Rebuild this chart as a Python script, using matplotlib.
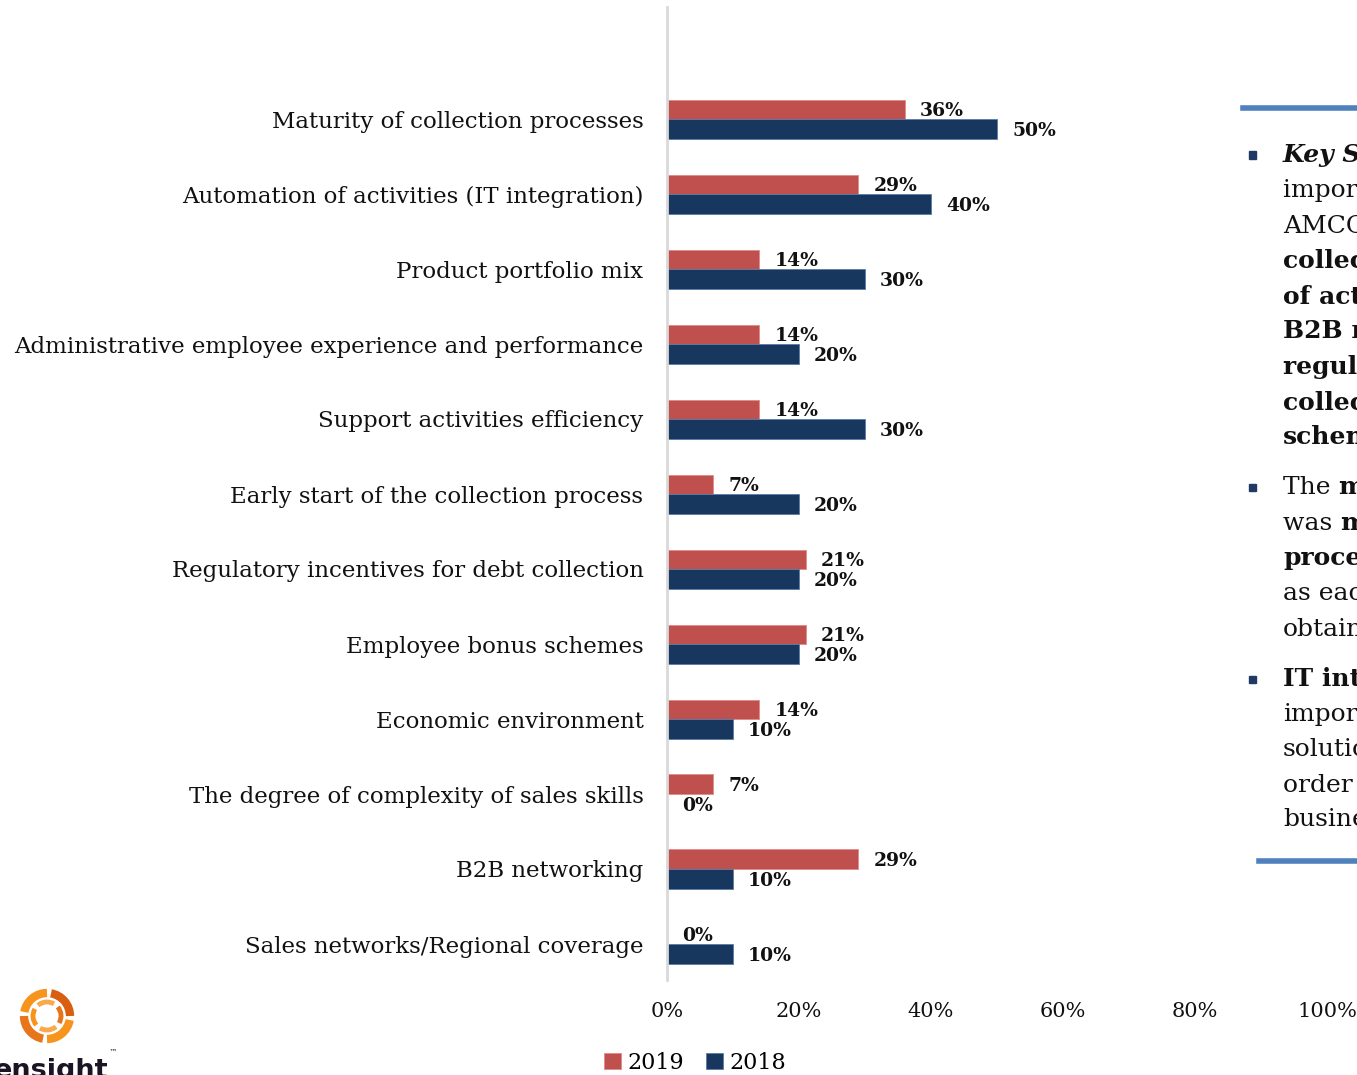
import matplotlib
matplotlib.use("Agg")
import matplotlib.pyplot as plt
from matplotlib.patches import Arc, Rectangle
from matplotlib.ticker import FuncFormatter

# Survey data: importance of factors for collection success
categories = [
    "Maturity of collection processes",
    "Automation of activities (IT integration)",
    "Product portfolio mix",
    "Administrative employee experience and performance",
    "Support activities efficiency",
    "Early start of the collection process",
    "Regulatory incentives for debt collection",
    "Employee bonus schemes",
    "Economic environment",
    "The degree of complexity of sales skills",
    "B2B networking",
    "Sales networks/Regional coverage",
]
values_2019 = [36, 29, 14, 14, 14, 7, 21, 21, 14, 7, 29, 0]
values_2018 = [50, 40, 30, 20, 30, 20, 20, 20, 10, 0, 10, 10]
x_ticks = [0, 20, 40, 60, 80, 100]

RED = "#C0504D"
NAVY = "#17375E"
SERIF = ["DejaVu Serif"]

W, H = 1357, 1075
fig = plt.figure(figsize=(W / 100, H / 100), dpi=100)
fig.patch.set_facecolor("white")


def fx(px):
    return px / W


def fy(py):
    return 1 - py / H


ax = fig.add_axes([fx(667), fy(980), fx(1327) - fx(667), fy(7) - fy(980)])

bar_h = 0.26
ypos = list(range(len(categories)))
y_red = [y - bar_h / 2 for y in ypos]
y_navy = [y + bar_h / 2 for y in ypos]

ax.barh(y_red, values_2019, height=bar_h, color=RED, edgecolor="#E08A88",
        linewidth=0.6, label="2019")
ax.barh(y_navy, values_2018, height=bar_h, color=NAVY, edgecolor="#5A7BA8",
        linewidth=0.6, label="2018")

for yr, yn, v19, v18 in zip(y_red, y_navy, values_2019, values_2018):
    ax.annotate(f"{v19}%", (v19, yr + 0.02), xytext=(15, 0), textcoords="offset pixels",
                ha="left", va="center", fontsize=13.5, fontweight="bold",
                family=SERIF, color="#111111")
    ax.annotate(f"{v18}%", (v18, yn + 0.03), xytext=(15, 0), textcoords="offset pixels",
                ha="left", va="center", fontsize=13.5, fontweight="bold",
                family=SERIF, color="#111111")

ax.set_xlim(0, 100)
ax.set_ylim(11 + (980 - 944) / 75, -(119 - 7) / 75)
ax.set_yticks(ypos)
ax.set_yticklabels(categories, family=SERIF, fontsize=16.5, color="#111111")
ax.set_xticks(x_ticks)
ax.xaxis.set_major_formatter(FuncFormatter(lambda v, p: f"{v:.0f}%"))
for lbl in ax.get_xticklabels():
    lbl.set_family(SERIF)
    lbl.set_fontsize(15)
    lbl.set_color("#111111")
ax.tick_params(axis="both", length=0)
ax.tick_params(axis="y", pad=17)
ax.tick_params(axis="x", pad=16)
for side in ("top", "right", "bottom"):
    ax.spines[side].set_visible(False)
ax.spines["left"].set_color("#D9D9D9")
ax.spines["left"].set_linewidth(2)

leg = fig.legend(loc="center", bbox_to_anchor=(fx(695), fy(1063)), ncol=2,
                 frameon=False, handlelength=0.75, handleheight=0.75,
                 handletextpad=0.3, columnspacing=1.0,
                 prop={"family": SERIF, "size": 16})

# Key findings panel on the right
BLUE_RULE = "#4F81BD"
fig.add_artist(plt.Line2D([fx(1243), fx(1357)], [fy(108), fy(108)],
                          color=BLUE_RULE, lw=4, transform=fig.transFigure))
fig.add_artist(plt.Line2D([fx(1259), fx(1357)], [fy(861), fy(861)],
                          color=BLUE_RULE, lw=4, transform=fig.transFigure))

TX = 1283
FS = 18


def line(x, y, s, weight="normal", style="normal"):
    return fig.text(fx(x), fy(y), s, ha="left", va="center", fontsize=FS,
                    family=SERIF, fontweight=weight, fontstyle=style, color="#111111")


def line_mixed(y, first, second):
    t = line(TX, y, first)
    fig.canvas.draw()
    bb = t.get_window_extent()
    fig.text(bb.x1 / W, fy(y), second, ha="left", va="center", fontsize=FS,
             family=SERIF, fontweight="bold", color="#111111")


def bullet(y):
    fig.add_artist(Rectangle((fx(1249), fy(y) - 3.5 / H), 7 / W, 7 / H,
                             transform=fig.transFigure, color="#1F3864"))


bullet(155)
line(TX, 155, "Key Success Factors", "bold", "italic")
line(TX, 190, "important for")
line(TX, 226, "AMCCs are: maturity of")
line(TX, 261, "collection processes,", "bold")
line(TX, 296, "of activities,", "bold")
line(TX, 331, "B2B networking,", "bold")
line(TX, 367, "regulatory incentives", "bold")
line(TX, 402, "collection, bonus", "bold")
line(TX, 437, "schemes", "bold")

bullet(487)
line_mixed(487, "The ", "most")
line_mixed(523, "was ", "maturity")
line(TX, 558, "processes", "bold")
line(TX, 594, "as each")
line(TX, 629, "obtained")

bullet(679)
line(TX, 679, "IT integration", "bold")
line(TX, 715, "important")
line(TX, 750, "solutions")
line(TX, 785, "order to")
line(TX, 820, "business")

# Company logo, bottom left
cx, cy, r = 47, 1016, 23
logo_ax = fig.add_axes([0, 0, 1, 1], facecolor="none")
logo_ax.set_xlim(0, W)
logo_ax.set_ylim(H, 0)
logo_ax.axis("off")
for start, col in [(10, "#F7941D"), (100, "#E8751A"), (190, "#F7941D"), (280, "#D85F12")]:
    logo_ax.add_patch(Arc((cx, cy), 2 * r, 2 * r, theta1=start, theta2=start + 80,
                          color=col, lw=6))
for start, col in [(50, "#F9A94B"), (140, "#F7941D"), (230, "#F9A94B"), (320, "#E8751A")]:
    logo_ax.add_patch(Arc((cx, cy), 2 * r - 18, 2 * r - 18, theta1=start,
                          theta2=start + 70, color=col, lw=3.5))
logo_ax.text(-6, 1078, "ensight", ha="left", va="baseline", fontsize=19.5,
             fontweight="bold", family=["DejaVu Sans"], color="#1A1424")
logo_ax.text(109, 1052, "™", ha="left", va="center", fontsize=6,
             family=["DejaVu Sans"], color="#1A1424")

fig.savefig("out.png", dpi=100, facecolor="white")
